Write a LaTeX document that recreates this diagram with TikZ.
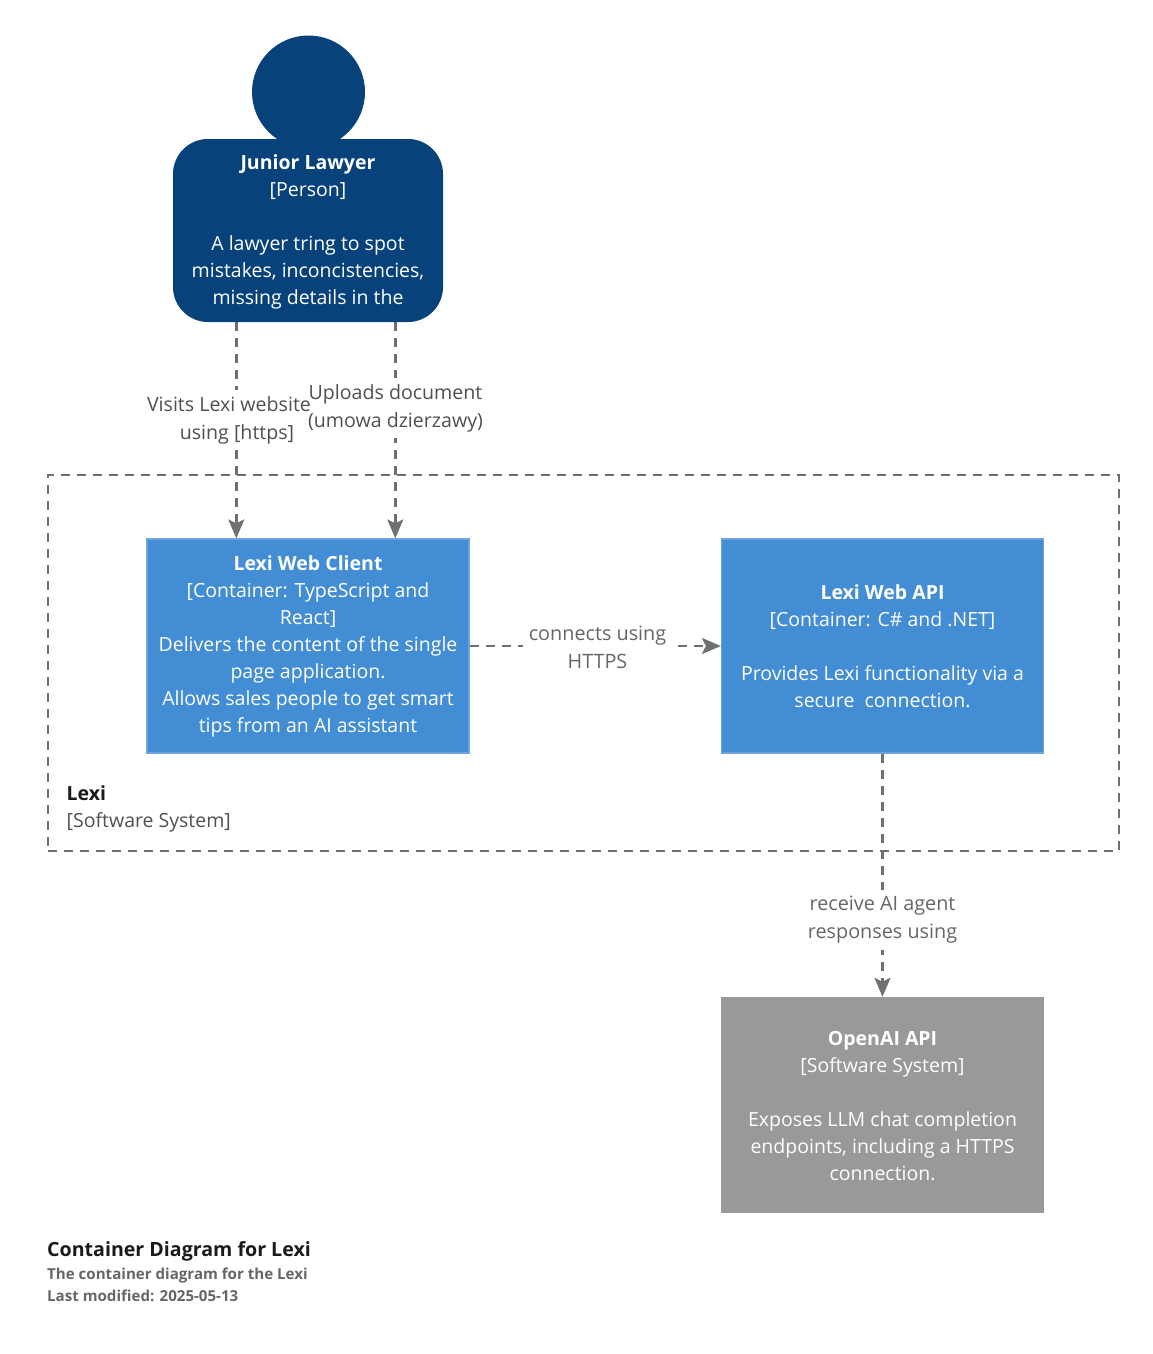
\documentclass[tikz,border=0pt]{standalone}
\usepackage{fontspec}
\setmainfont{Open Sans}
\usetikzlibrary{arrows.meta,calc,backgrounds}
\definecolor{personblue}{HTML}{08427B}
\definecolor{contblue}{HTML}{438DD5}
\definecolor{contedge}{HTML}{6AA3E0}
\definecolor{extgrey}{HTML}{999999}
\definecolor{edgegrey}{HTML}{707070}
\definecolor{labgrey}{HTML}{666666}
\definecolor{labdark}{HTML}{505050}
\definecolor{titleblack}{HTML}{1A1A1A}
\tikzset{
  x=1pt,y=-1pt,
  boxtext/.style={text=white,font=\fontsize{19.5}{27}\selectfont,align=center,inner sep=0pt},
  contbox/.style={draw=contedge,line width=1.2pt,fill=contblue,minimum width=322pt,minimum height=214pt,inner sep=0pt},
  extbox/.style={fill=extgrey,minimum width=323pt,minimum height=216pt,inner sep=0pt},
  rel/.style={draw=edgegrey,line width=2.4pt,dash pattern=on 9pt off 7pt,-{Stealth[length=19pt,width=16pt,inset=4pt]}},
  rellabel/.style={text=labgrey,font=\fontsize{19.6}{28}\selectfont,align=center,inner ysep=6pt,inner xsep=6pt},
  bound/.style={draw=edgegrey,line width=2.4pt,dash pattern=on 9pt off 7pt}
}
\begin{document}
\begin{tikzpicture}
\useasboundingbox (0,0) rectangle (1153,1354);
% boundary
\node[bound,minimum width=1071pt,minimum height=376pt,inner sep=0pt] (lexi) at (583.5,663) {};
\node[anchor=north west,text=titleblack,font=\fontsize{19.5}{27}\selectfont,align=left,inner sep=0pt] (lexilabel) at (66.5,785) {\textbf{Lexi}\\{\color{labdark}[Software System]}};
% person
\node[circle,fill=personblue,minimum size=113pt,inner sep=0pt] (head) at (308.5,92) {};
\node[rectangle,fill=personblue,minimum width=270pt,minimum height=183pt,inner sep=0pt,rounded corners=35pt] (jl) at (308,230.5) {};
\node[boxtext] (jltext) at (308,232) {\textbf{Junior Lawyer}\\{}[Person]\\[27pt]A lawyer tring to spot\\mistakes, inconcistencies,\\missing details in the};
% containers
\node[contbox] (client) at (308,646) {};
\node[boxtext] (clienttext) at (308,646) {\textbf{Lexi Web Client}\\{}[Container: TypeScript and\\React]\\Delivers the content of the single\\page application.\\Allows sales people to get smart\\tips from an AI assistant};
\node[contbox] (api) at (882.5,646) {};
\node[boxtext] (apitext) at (882.5,646) {\textbf{Lexi Web API}\\{}[Container: C\# and .NET]\\[27pt]Provides Lexi functionality via a\\secure\ \ connection.};
\node[extbox] (openai) at (882.5,1105) {};
\node[boxtext] (openaitext) at (882.5,1106) {\textbf{OpenAI API}\\{}[Software System]\\[27pt]Exposes LLM chat completion\\endpoints, including a HTTPS\\connection.};
% connector labels
\node[rellabel,text=labdark] (l1) at (229,420) {Visits Lexi website\\\hspace*{16pt}using [https]};
\node[rellabel,text=labdark] (l2) at (395.5,408) {Uploads document\\(umowa dzierzawy)};
\node[rellabel,font=\fontsize{19.8}{28}\selectfont] (l3) at (597.5,647) {connects using\\HTTPS};
\node[rellabel,font=\fontsize{19.8}{28}\selectfont] (l4) at (882.5,920) {receive AI agent\\responses using};
% anchors on box edges
\coordinate (jlL) at ($(jl.south)+(-71.7,0)$);
\coordinate (jlR) at ($(jl.south)+(87.3,0)$);
\coordinate (clL) at (jlL |- client.north);
\coordinate (clR) at (jlR |- client.north);
% connectors, under the labels, with white patches behind the label text
\begin{scope}[on background layer]
\draw[rel] (jlL) -- (clL);
\draw[rel] (jlR) -- (clR);
\draw[rel] (client.east) -- (api.west);
\draw[rel] (api.south) -- (openai.north);
\foreach \lab in {l1,l2,l3,l4}
  \fill[white] (\lab.south west) rectangle (\lab.north east);
\end{scope}
% title
\node[anchor=north west,text=titleblack,inner sep=0pt,font=\fontsize{19.6}{27}\selectfont\bfseries] (title) at (47,1241) {Container Diagram for Lexi};
\node[anchor=north west,text=labgrey,inner sep=0pt,align=left,font=\fontsize{15.1}{22}\selectfont\bfseries] (sub) at (47,1267.5) {The container diagram for the Lexi\\Last modified: 2025-05-13};
\end{tikzpicture}
\end{document}
